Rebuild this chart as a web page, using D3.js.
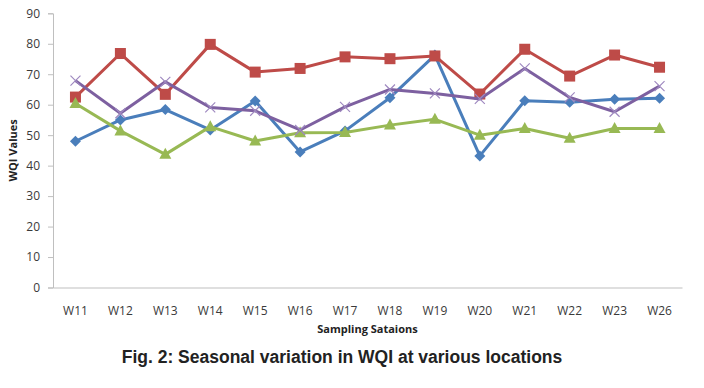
<!DOCTYPE html>
<html>
<head>
<meta charset="utf-8">
<script src="https://cdn.jsdelivr.net/npm/d3@7"></script>
<style>
  body { margin: 0; background: #ffffff; }
  svg { display: block; }
</style>
</head>
<body>
<svg id="chart"></svg>
<script>
const stations = ["W11", "W12", "W13", "W14", "W15", "W16", "W17", "W18", "W19", "W20", "W21", "W22", "W23", "W26"];
const blueValues = [48, 55, 58.4, 51.7, 61.2, 44.5, 51.4, 62.3, 76.3, 43.2, 61.3, 60.8, 61.8, 62.1];
const redValues = [62.5, 76.8, 63.4, 79.8, 70.7, 71.9, 75.7, 75.1, 76, 63.5, 78.2, 69.4, 76.3, 72.3];
const purpleValues = [67.9, 57.2, 67.5, 59.1, 58, 51.7, 59.3, 65, 63.7, 61.9, 71.9, 62.4, 57.7, 66.1];
const greenValues = [60.4, 51.4, 43.7, 52.8, 48.1, 50.8, 50.9, 53.3, 55.2, 50, 52.2, 49, 52.2, 52.2];
const yTicks = [0, 10, 20, 30, 40, 50, 60, 70, 80, 90];

const width = 704, height = 388;
const margin = { l: 53, r: 22, t: 13.3, b: 100.5 };
const tickFont = "'Open Sans', sans-serif";

const svg = d3.select("#chart").attr("width", width).attr("height", height);

const x = d3.scaleBand().domain(stations).range([margin.l, width - margin.r]);
const y = d3.scaleLinear().domain([0, 90]).range([height - margin.b, margin.t]);

// y axis
const yAxis = svg.append("g")
    .attr("transform", "translate(" + margin.l + ",0)")
    .call(d3.axisLeft(y).tickValues(yTicks).tickSize(5).tickPadding(8));
yAxis.select(".domain").attr("stroke", "#bfbfbf");
yAxis.selectAll(".tick line").attr("stroke", "#bfbfbf");
yAxis.selectAll("text").attr("font-family", tickFont).attr("font-size", 12).attr("fill", "#3a3a3a");

// x axis
const xAxis = svg.append("g")
    .attr("transform", "translate(0," + y(0) + ")")
    .call(d3.axisBottom(x).tickSize(0).tickPadding(19));
xAxis.select(".domain").attr("stroke", "#bfbfbf");
xAxis.selectAll("text").attr("font-family", tickFont).attr("font-size", 12).attr("fill", "#3a3a3a");

// axis titles + caption
svg.append("text")
    .attr("transform", "translate(17," + (y(45)) + ") rotate(-90)")
    .attr("text-anchor", "middle")
    .attr("font-family", tickFont).attr("font-weight", "bold").attr("font-size", 11)
    .attr("fill", "#222")
    .text("WQI Values");

svg.append("text")
    .attr("x", (margin.l + width - margin.r) / 2).attr("y", 333)
    .attr("text-anchor", "middle")
    .attr("font-family", tickFont).attr("font-weight", "bold").attr("font-size", 11)
    .attr("fill", "#222")
    .text("Sampling Sataions");

svg.append("text")
    .attr("x", 342).attr("y", 363)
    .attr("text-anchor", "middle")
    .attr("font-family", "'Liberation Sans', Arial, sans-serif").attr("font-weight", "bold").attr("font-size", 17.5)
    .attr("fill", "#222")
    .text("Fig. 2: Seasonal variation in WQI at various locations");

const cx = s => x(s) + x.bandwidth() / 2;
const line = d3.line().x((d, i) => cx(stations[i])).y(d => y(d));

const series = [
    { name: "blue", values: blueValues, color: "#4a7ebb", marker: "diamond" },
    { name: "red", values: redValues, color: "#be4b48", marker: "square" },
    { name: "green", values: greenValues, color: "#98b954", marker: "triangle" },
    { name: "purple", values: purpleValues, color: "#7d60a0", marker: "cross" }
];

series.forEach(s => {
    const g = svg.append("g").attr("class", "series-" + s.name);
    g.append("path")
        .attr("d", line(s.values))
        .attr("fill", "none")
        .attr("stroke", s.color)
        .attr("stroke-width", 3)
        .attr("stroke-linejoin", "round");

    const pts = g.selectAll(".pt").data(s.values).join("g")
        .attr("class", "pt")
        .attr("transform", (d, i) => "translate(" + cx(stations[i]) + "," + y(d) + ")");

    if (s.marker === "diamond") {
        pts.append("path").attr("d", "M0,-5.5L5.5,0L0,5.5L-5.5,0Z").attr("fill", s.color);
    } else if (s.marker === "square") {
        pts.append("rect").attr("x", -5.5).attr("y", -5.5).attr("width", 11).attr("height", 11).attr("fill", s.color);
    } else if (s.marker === "triangle") {
        pts.append("path").attr("d", "M0,-6.5L6,4.5L-6,4.5Z").attr("fill", s.color);
    } else {
        pts.append("path").attr("d", "M-5,-5L5,5M-5,5L5,-5").attr("stroke", "#9f89c0").attr("stroke-width", 1.2);
    }
});
</script>
</body>
</html>
